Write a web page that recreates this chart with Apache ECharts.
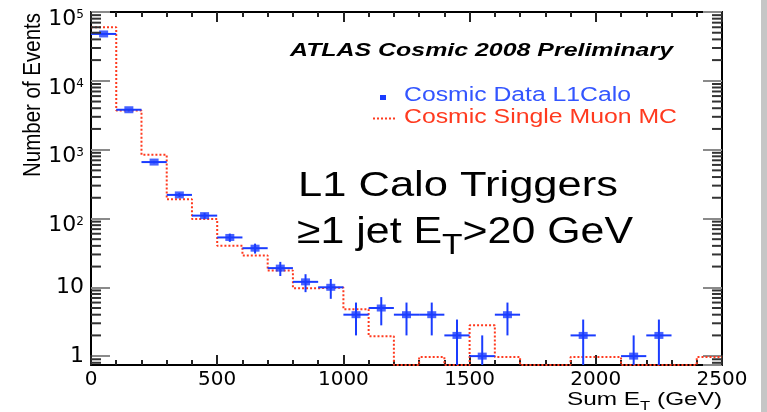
<!DOCTYPE html>
<html><head><meta charset="utf-8">
<script src="https://cdn.jsdelivr.net/npm/echarts@6/dist/echarts.min.js"></script>
<style>html,body{margin:0;padding:0;background:#fff}#c{width:767px;height:412px}</style>
</head><body><div id="c"></div>
<script>
// ---------------- data ----------------
const Y_MIN = 0.743, Y_MAX = 100000;
const X_MIN = 0, X_MAX = 2500;
const binEdges = [0,100,200,300,400,500,600,700,800,900,1000,1100,1200,1300,1400,1500,1600,1700,1800,1900,2000,2100,2200,2300,2400,2500];
// Cosmic Single Muon MC, one value per bin (0 = empty bin)
const mcValues = [60000,3700,840,190,98,40,29,17.5,9.7,9.9,4.8,1.95,0,0.97,0,2.8,0.97,0,0,0.97,0.97,0,0,0,0.97];
// Cosmic Data L1Calo
const dataCenters = [50,150,250,350,450,550,650,750,850,950,1050,1150,1250,1350,1450,1550,1650,1950,2150,2250];
const dataValues  = [48000,3800,660,220,110,53,37,19,12,10,4,5,4,4,2,1,4,2,1,2];
const dataErrors  = [219,62,25.7,14.8,10.5,7.3,6.1,4.4,3.5,3.2,2,2.2,2,2,1.4,1,2,1.4,1,1.4];
// ticks
const xTickValues = [0,500,1000,1500,2000,2500];
const yTickValues = [1,10,100,1000,10000,100000];
const yTickLabels = [['1',''],['10',''],['10','2'],['10','3'],['10','4'],['10','5']];
const yMinorTickValues = [0.8,0.9,2,3,4,5,6,7,8,9,20,30,40,50,60,70,80,90,200,300,400,500,600,700,800,900,
  2000,3000,4000,5000,6000,7000,8000,9000,20000,30000,40000,50000,60000,70000,80000,90000];
// texts
const titleText = 'ATLAS Cosmic 2008 Preliminary';
const legendData = 'Cosmic Data L1Calo';
const legendMC = 'Cosmic Single Muon MC';
const yAxisTitle = 'Number of Events';

// ---------------- build ----------------
const BLUE = '#1a3cff', RED = '#ff3a1f', LBLUE = '#3355ff';
const FONT = '"Liberation Sans", Arial, sans-serif';
const TICKFONT = 'DejaVu Sans';
const halfBin = (binEdges[1] - binEdges[0]) / 2;
const mcLine = binEdges.map((x, i) => {
  const v = mcValues[Math.min(i, mcValues.length - 1)];
  return [x, v > 0 ? v : Y_MIN];
});
const dataPts = dataCenters.map((x, i) => [x, dataValues[i], dataErrors[i]]);

const ctx = document.createElement('canvas').getContext('2d');
function tw(text, size, weight, style) {
  ctx.font = (style || 'normal') + ' ' + (weight || 'normal') + ' ' + size + 'px ' + FONT;
  return ctx.measureText(text).width;
}

const chart = echarts.init(document.getElementById('c'), null, {renderer: 'canvas'});

function yLabel(v) {
  const i = yTickValues.findIndex(t => Math.abs(t - v) / t < 1e-6);
  if (i < 0) return '';
  const l = yTickLabels[i];
  return l[1] ? '{b|' + l[0] + '}{s|' + l[1] + '}' : '{p|' + l[0] + '}';
}

function yAxis(pos, labels) {
  return {type: 'log', logBase: 10, min: Y_MIN, max: Y_MAX, position: pos,
    splitLine: {show: false}, minorSplitLine: {show: false},
    axisLine: {show: true, onZero: false, lineStyle: {color: '#000', width: 2}},
    axisTick: {show: true, inside: true, length: 19, lineStyle: {color: '#8a8a8a', width: 2}},
    minorTick: {show: false},
    axisLabel: labels ? {show: true, margin: 7, color: '#000', fontFamily: TICKFONT, fontSize: 22,
      showMinLabel: false, formatter: yLabel,
      rich: {
        p: {fontFamily: TICKFONT, fontSize: 22, color: '#000'},
        b: {fontFamily: TICKFONT, fontSize: 22, color: '#000', lineHeight: 18, padding: [14, 0, 0, 0]},
        s: {fontFamily: TICKFONT, fontSize: 12, color: '#000', lineHeight: 14, padding: [6, 0, 0, 0], verticalAlign: 'top'}
      }} : {show: false}};
}

function xAxis(pos, labels) {
  return {type: 'value', min: X_MIN, max: X_MAX, interval: 500, position: pos,
    axisLine: {show: true, onZero: false, lineStyle: {color: '#000', width: 2}},
    axisTick: {show: true, inside: true, length: 10, lineStyle: {color: '#222', width: 2}},
    minorTick: {show: true, splitNumber: 5, length: 5, lineStyle: {color: '#222', width: 2}},
    axisLabel: labels ? {show: true, margin: 5, fontFamily: TICKFONT, fontSize: 20, color: '#000',
      showMinLabel: true, showMaxLabel: true,
      formatter: v => { const i = xTickValues.indexOf(v); return i < 0 ? '' : String(xTickValues[i]); }} : {show: false},
    splitLine: {show: false}};
}

const graphics = [];
// title
graphics.push({type: 'text', x: 290, y: 51, scaleX: 383 / tw(titleText, 18.5, 'bold', 'italic'),
  style: {text: titleText, fontSize: 18.5, fontWeight: 'bold', fontStyle: 'italic', fontFamily: FONT,
    fill: '#000', align: 'left', verticalAlign: 'middle', textAlign: 'left', textVerticalAlign: 'middle'}});
// legend
graphics.push({type: 'rect', shape: {x: 380, y: 95, width: 6, height: 5}, style: {fill: BLUE}});
graphics.push({type: 'text', x: 404, y: 95.5, scaleX: 227 / tw(legendData, 20),
  style: {text: legendData, fontSize: 20, fontFamily: FONT, fill: LBLUE, align: 'left', verticalAlign: 'middle', textAlign: 'left', textVerticalAlign: 'middle'}});
graphics.push({type: 'line', shape: {x1: 373, y1: 118.5, x2: 396, y2: 118.5}, style: {stroke: RED, lineWidth: 2, lineDash: [2, 2]}});
graphics.push({type: 'text', x: 404, y: 117.5, scaleX: 273 / tw(legendMC, 20),
  style: {text: legendMC, fontSize: 20, fontFamily: FONT, fill: RED, align: 'left', verticalAlign: 'middle', textAlign: 'left', textVerticalAlign: 'middle'}});
// annotation
graphics.push({type: 'text', x: 298, y: 186, scaleX: 320 / tw('L1 Calo Triggers', 35),
  style: {text: 'L1 Calo Triggers', fontSize: 35, fontFamily: FONT, fill: '#000', align: 'left', verticalAlign: 'middle', textAlign: 'left', textVerticalAlign: 'middle'}});
const l2w = tw('\u22651 jet E', 37) + tw('T', 29) + tw('>20 GeV', 37);
graphics.push({type: 'text', x: 297, y: 233, scaleX: 336 / l2w,
  style: {text: '{a|\u22651 jet E}{t|T}{a|>20 GeV}', fill: '#000', align: 'left', verticalAlign: 'middle', textAlign: 'left', textVerticalAlign: 'middle',
    rich: {a: {fontSize: 37, fontFamily: FONT, lineHeight: 54, fill: '#000', verticalAlign: 'middle'},
           t: {fontSize: 29, fontFamily: FONT, lineHeight: 30, fill: '#000', verticalAlign: 'bottom'}}}});
// x axis title
const xtw = tw('Sum E', 19) + tw('T', 13) + tw(' (GeV)', 19);
graphics.push({type: 'text', x: 567, y: 400, scaleX: 155 / xtw,
  style: {text: '{a|Sum E}{t|T}{a| (GeV)}', fill: '#000', align: 'left', verticalAlign: 'middle', textAlign: 'left', textVerticalAlign: 'middle',
    rich: {a: {fontSize: 19, fontFamily: FONT, lineHeight: 26, fill: '#000', verticalAlign: 'middle'},
           t: {fontSize: 13, fontFamily: FONT, lineHeight: 14, fill: '#000', verticalAlign: 'bottom'}}}});
// y axis title
graphics.push({type: 'text', x: 33, y: 95, rotation: Math.PI / 2, scaleY: 1.2,
  style: {text: yAxisTitle, fontSize: 20.5, fontFamily: FONT, fill: '#000', align: 'center', verticalAlign: 'middle', textAlign: 'center', textVerticalAlign: 'middle'}});
// slide edge
graphics.push({type: 'rect', shape: {x: 761, y: 0, width: 6, height: 412}, style: {fill: '#c6c6c6'}});

const option = {
  animation: false,
  backgroundColor: '#fff',
  grid: {left: 91, right: 45, top: 12, bottom: 47, containLabel: false, outerBoundsMode: 'none'},
  xAxis: [xAxis('bottom', true), xAxis('top', false)],
  yAxis: [yAxis('left', true), yAxis('right', false)],
  series: [
    {name: legendMC, type: 'line', step: 'end', data: mcLine, showSymbol: false, symbol: 'none',
      xAxisIndex: 0, yAxisIndex: 0, z: 2,
      lineStyle: {color: RED, width: 2, type: [2, 2]}},
    {name: legendData + ' errors', type: 'custom', data: dataPts, xAxisIndex: 0, yAxisIndex: 0, z: 3,
      encode: {x: 0, y: 1},
      renderItem: (params, api) => {
        const x = api.value(0), v = api.value(1), e = api.value(2);
        const lo = Math.max(v - e, Y_MIN), hi = v + e;
        const pL = api.coord([x - halfBin, v]), pR = api.coord([x + halfBin, v]);
        const pLo = api.coord([x, lo]), pHi = api.coord([x, hi]);
        return {type: 'group', children: [
          {type: 'line', shape: {x1: pL[0], y1: pL[1], x2: pR[0], y2: pR[1]}, style: {stroke: BLUE, lineWidth: 2}},
          {type: 'line', shape: {x1: pLo[0], y1: pLo[1], x2: pHi[0], y2: pHi[1]}, style: {stroke: BLUE, lineWidth: 2}}
        ]};
      }},
    {name: legendData, type: 'scatter', data: dataPts.map(d => [d[0], d[1]]), xAxisIndex: 0, yAxisIndex: 0, z: 4,
      symbol: 'rect', symbolSize: [9, 7], itemStyle: {color: BLUE}}
  ],
  graphic: graphics
};
chart.setOption(option);

// y-axis minor ticks (2..9 per decade) placed through the log axis scale, on both frame sides
const finder = {xAxisIndex: 0, yAxisIndex: 0};
const tickEls = [];
yMinorTickValues.forEach(v => {
  const a = chart.convertToPixel(finder, [X_MIN, v]);
  const b = chart.convertToPixel(finder, [X_MAX, v]);
  if (!a || !b) return;
  tickEls.push({type: 'line', z: 5, silent: true, shape: {x1: a[0], y1: a[1], x2: a[0] + 10, y2: a[1]}, style: {stroke: '#333', lineWidth: 2}});
  tickEls.push({type: 'line', z: 5, silent: true, shape: {x1: b[0] - 10, y1: b[1], x2: b[0], y2: b[1]}, style: {stroke: '#333', lineWidth: 2}});
});
chart.setOption({graphic: graphics.concat(tickEls)});
</script></body></html>
